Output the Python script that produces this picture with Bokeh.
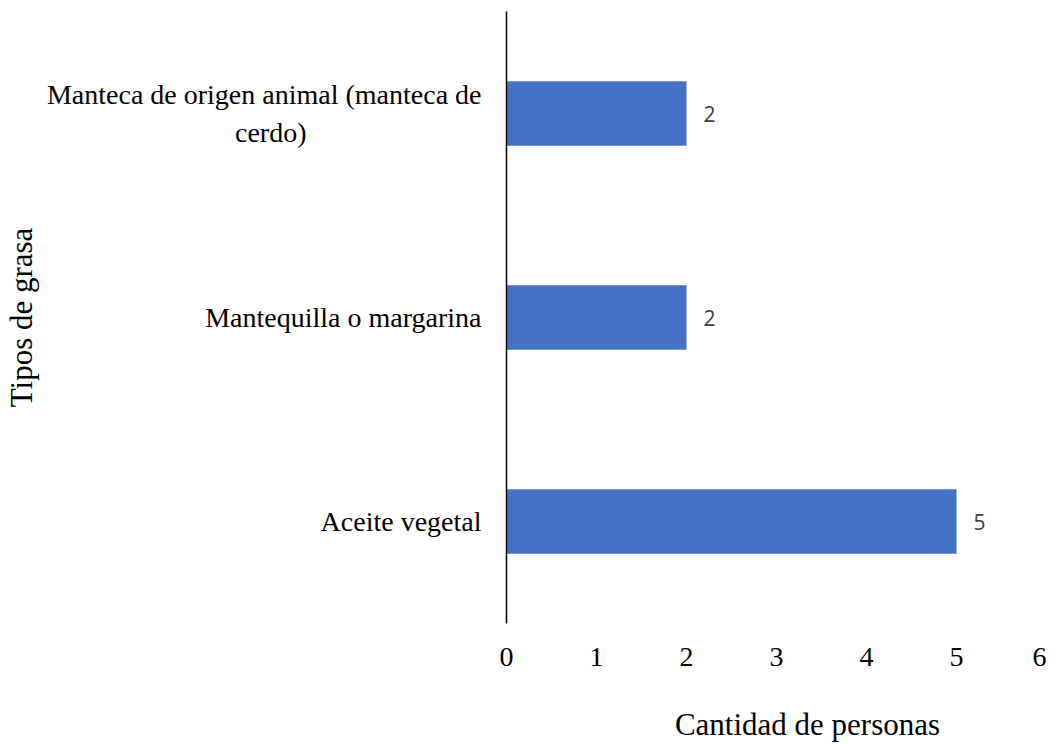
from bokeh.plotting import figure
from bokeh.models import ColumnDataSource, FactorRange, Range1d, FixedTicker
from bokeh.core.properties import value
from bokeh.embed import file_html
from bokeh.resources import INLINE

# Data (bottom to top)
categories = ["Aceite vegetal", "Mantequilla o margarina",
              "Manteca de origen animal (manteca de cerdo)"]
counts = [5, 2, 2]
x_ticks = [0, 1, 2, 3, 4, 5, 6]

# Displayed (wrapped) category labels, second line centred under the first
NB = "\u00a0"
category_labels = ["Aceite vegetal", "Mantequilla o margarina",
                   "Manteca de origen animal (manteca de\ncerdo)" + NB * 25]

source = ColumnDataSource(data=dict(cat=category_labels, n=counts,
                                    lbl=[str(v) for v in counts]))

SERIF = "Liberation Serif"

p = figure(width=1046, height=744, output_backend="svg", toolbar_location=None,
           y_range=FactorRange(factors=category_labels, range_padding=0),
           x_range=Range1d(0, 6),
           min_border_left=500, min_border_right=0, min_border_top=11,
           min_border_bottom=100)

p.hbar(y="cat", right="n", height=0.315, left=0, source=source,
       fill_color="#4472C4", line_color=None)

p.text(x="n", y="cat", text="lbl", source=source, x_offset=17,
       text_align="left", text_baseline="middle",
       text_font=value("Open Sans"), text_font_size="21px", text_color="#404040")

p.outline_line_color = None
p.xgrid.visible = False
p.ygrid.visible = False

# x axis
xa = p.xaxis[0]
xa.ticker = FixedTicker(ticks=x_ticks)
xa.axis_line_color = None
xa.major_tick_line_color = None
xa.minor_tick_line_color = None
xa.major_tick_out = 0
xa.major_tick_in = 0
xa.major_label_standoff = 24
xa.major_label_text_font = SERIF
xa.major_label_text_font_size = "28px"
xa.major_label_text_color = "#000000"
xa.axis_label = NB * 8 + "Cantidad de personas"
xa.axis_label_text_font = SERIF
xa.axis_label_text_font_size = "31px"
xa.axis_label_text_font_style = "normal"
xa.axis_label_text_color = "#000000"
xa.axis_label_standoff = 38

# y axis
ya = p.yaxis[0]
ya.axis_line_color = "#000000"
ya.axis_line_width = 1.5
ya.major_tick_line_color = None
ya.major_tick_out = 0
ya.major_tick_in = 0
ya.major_label_standoff = 25
ya.major_label_text_font = SERIF
ya.major_label_text_font_size = "28px"
ya.major_label_text_color = "#000000"
ya.axis_label = "Tipos de grasa"
ya.axis_label_text_font = SERIF
ya.axis_label_text_font_size = "31px"
ya.axis_label_text_font_style = "normal"
ya.axis_label_text_color = "#000000"
ya.axis_label_standoff = 5

open("out.html", "w").write(file_html(p, INLINE))
